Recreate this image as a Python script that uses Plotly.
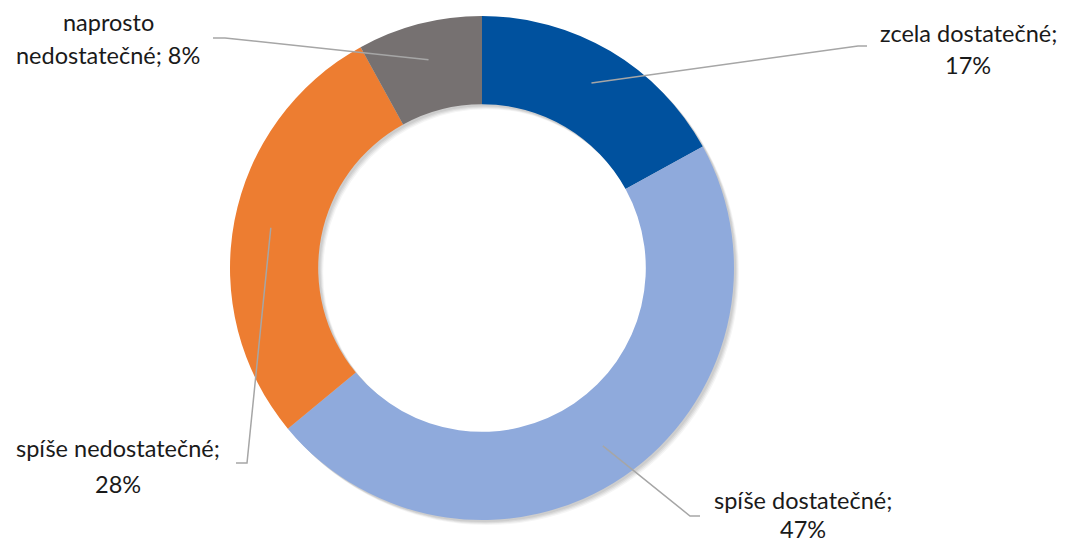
import math
import plotly.graph_objects as go

W, H = 1066, 543

categories = ["zcela dostatečné", "spíše dostatečné", "spíše nedostatečné", "naprosto nedostatečné"]
shares = [17, 47, 28, 8]
colors = ["#00519E", "#8FAADC", "#ED7D31", "#767171"]

# donut geometry in pixels
cx, cy, R = 482, 268, 252
hole = 0.65
leader_r = 215

# label placement: (line1, line2, centre x, y1, y2, elbow, end)
label_layout = [
    ("zcela dostatečné;", "17%", 968, 33, 65, (858, 46), (867, 46)),
    ("spíše dostatečné;", "47%", 803, 500, 529, (690, 516), (700, 516)),
    ("spíše nedostatečné;", "28%", 118, 448, 484, (247, 463), (236, 463)),
    ("naprosto", "nedostatečné; 8%", 108, 22, 55, (225, 38), (213, 38)),
]


def px(x, y):
    return x / W, 1 - y / H


def domain(dx=0, dy=0):
    return dict(
        x=[(cx - R + dx) / W, (cx + R + dx) / W],
        y=[(H - cy - R - dy) / H, (H - cy + R - dy) / H],
    )


fig = go.Figure()

# soft shadow
for off, a in [(5, 0.04), (4, 0.05), (3, 0.06), (2, 0.06)]:
    fig.add_trace(go.Pie(
        values=[1], hole=hole, domain=domain(off, off),
        marker=dict(colors=[f"rgba(0,0,0,{a})"], line=dict(width=0)),
        textinfo="none", hoverinfo="skip", showlegend=False, sort=False
    ))

fig.add_trace(go.Pie(
    labels=categories,
    values=shares,
    hole=hole,
    sort=False,
    direction="clockwise",
    rotation=0,
    domain=domain(),
    marker=dict(colors=colors, line=dict(width=0)),
    textinfo="none",
    showlegend=False
))

shapes = []
annotations = []
total = sum(shares)
cum = 0
font = dict(family="Lato, Calibri, sans-serif", size=23.5, color="#1a1a1a")
for val, lab in zip(shares, label_layout):
    mid = (cum + val / 2) / total * 2 * math.pi
    cum += val
    sx = cx + leader_r * math.sin(mid)
    sy = cy - leader_r * math.cos(mid)
    l1, l2, tx, y1, y2, elbow, end = lab
    p0 = px(sx, sy)
    p1 = px(*elbow)
    p2 = px(*end)
    shapes.append(dict(
        type="path", xref="paper", yref="paper",
        path=f"M {p0[0]},{p0[1]} L {p1[0]},{p1[1]} L {p2[0]},{p2[1]}",
        line=dict(color="#A6A6A6", width=1.5)
    ))
    for txt, ty in [(l1, y1), (l2, y2)]:
        ax, ay = px(tx, ty)
        annotations.append(dict(
            x=ax, y=ay, xref="paper", yref="paper", text=txt,
            showarrow=False, xanchor="center", yanchor="middle", font=font
        ))

fig.update_layout(
    width=W,
    height=H,
    margin=dict(l=0, r=0, t=0, b=0),
    plot_bgcolor="white",
    paper_bgcolor="white",
    shapes=shapes,
    annotations=annotations
)

fig.write_html(
    "out.html",
    config={"displayModeBar": False},
    post_script="document.body.style.margin='0';"
)
